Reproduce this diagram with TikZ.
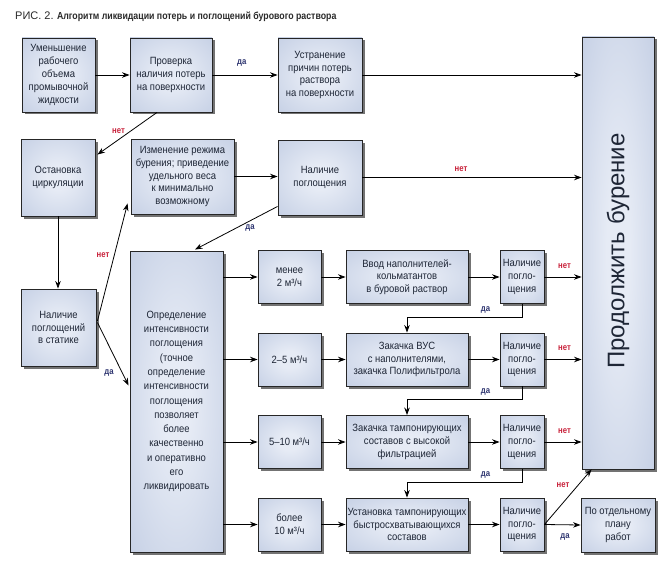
\documentclass[tikz,border=0pt]{standalone}
\usepackage{fontspec}
\setmainfont{Liberation Sans}[FakeStretch=0.9]
\newfontfamily\plainf{Liberation Sans}
\newfontfamily\condf{Liberation Sans}[FakeStretch=0.86]
\usetikzlibrary{arrows.meta,shadows,calc}
\definecolor{boxout}{HTML}{B6C3DD}
\definecolor{boxin}{HTML}{E6EBF5}
\definecolor{txt}{HTML}{1E2636}
\definecolor{dacol}{HTML}{2E3570}
\definecolor{netcol}{HTML}{C8213A}
\definecolor{ttl}{HTML}{2A2A2A}
\pgfdeclareradialshading{boxshade}{\pgfpoint{0bp}{0bp}}{color(0bp)=(boxin); color(8bp)=(boxin); color(50bp)=(boxout); color(100bp)=(boxout)}
\tikzset{
  box/.style={draw=black!85, line width=0.9pt, shading=boxshade,
    drop shadow={shadow xshift=2.5pt, shadow yshift=-2.5pt, fill=black, opacity=0.55},
    align=center, font=\fontsize{10.5}{12.8}\selectfont, text=txt, inner sep=1pt},
  arr/.style={-{Stealth[length=7.5pt,width=5.5pt]}, line width=0.8pt, black},
  lblda/.style={font=\condf\bfseries\fontsize{9}{10}\selectfont, text=dacol, inner sep=0pt},
  lblnet/.style={font=\condf\bfseries\fontsize{9}{10}\selectfont, text=netcol, inner sep=0pt},
}
\begin{document}
\begin{tikzpicture}[x=1pt, y=-1pt]
\useasboundingbox (0,0) rectangle (666,567);
% title
\node[anchor=west, inner sep=0pt, text=ttl] (title) at (15,17)
  {{\plainf\fontsize{11}{12}\selectfont РИС. 2.} {\condf\bfseries\fontsize{10.2}{11}\selectfont Алгоритм ликвидации потерь и поглощений бурового раствора}};
% top row
\node[box, minimum width=73pt, minimum height=74pt] (b1) at (58.5,75) {Уменьшение\\рабочего\\объема\\промывочной\\жидкости};
\node[box, minimum width=82pt, minimum height=74pt] (b2) at (171,75) {Проверка\\наличия потерь\\на поверхности};
\node[box, minimum width=84pt, minimum height=74pt] (b3) at (320,75) {Устранение\\причин потерь\\раствора\\на поверхности};
\node[box, minimum width=72pt, minimum height=432pt] (big) at (618,253) {};
\node[rotate=90, font=\plainf\fontsize{24}{28}\selectfont, text=txt] (bigtxt) at (618,251) {Продолжить бурение};
% second row
\node[box, minimum width=74pt, minimum height=77pt] (b4) at (58,177.5) {Остановка\\циркуляции};
\node[box, minimum width=103pt, minimum height=75pt] (b5) at (182.5,176.5) {Изменение режима\\бурения; приведение\\удельного веса\\к минимально\\возможному};
\node[box, minimum width=84pt, minimum height=75pt] (b6) at (320,177.5) {Наличие\\поглощения};
\node[box, minimum width=75pt, minimum height=77pt] (b7) at (58.5,327.5) {Наличие\\поглощений\\в статике};
\node[box, minimum width=93pt, minimum height=301pt, font=\fontsize{10.5}{14.3}\selectfont] (mid) at (176.5,401.5) {Определение\\интенсивности\\поглощения\\(точное\\определение\\интенсивности\\поглощения\\позволяет\\более\\качественно\\и оперативно\\его\\ликвидировать};
% rate boxes
\node[box, minimum width=63pt, minimum height=53pt] (r1) at (289.5,277) {менее\\2 м³/ч};
\node[box, minimum width=63pt, minimum height=53pt] (r2) at (289.5,359.5) {2–5 м³/ч};
\node[box, minimum width=63pt, minimum height=53pt] (r3) at (289.5,442) {5–10 м³/ч};
\node[box, minimum width=63pt, minimum height=53pt] (r4) at (289.5,524.5) {более\\10 м³/ч};
% action boxes
\node[box, minimum width=122pt, minimum height=53pt] (a1) at (407,277) {Ввод наполнителей-\\кольматантов\\в буровой раствор};
\node[box, minimum width=122pt, minimum height=53pt] (a2) at (407,359.5) {Закачка ВУС\\с наполнителями,\\закачка Полифильтрола};
\node[box, minimum width=122pt, minimum height=53pt] (a3) at (407,442) {Закачка тампонирующих\\составов с высокой\\фильтрацией};
\node[box, minimum width=122pt, minimum height=53pt] (a4) at (407,524.5) {Установка тампонирующих\\быстросхватывающихся\\составов};
% check boxes
\node[box, minimum width=44pt, minimum height=53pt] (c1) at (522,277) {Наличие\\погло-\\щения};
\node[box, minimum width=44pt, minimum height=53pt] (c2) at (522,359.5) {Наличие\\погло-\\щения};
\node[box, minimum width=44pt, minimum height=53pt] (c3) at (522,442) {Наличие\\погло-\\щения};
\node[box, minimum width=44pt, minimum height=53pt] (c4) at (522,524.5) {Наличие\\погло-\\щения};
\node[box, minimum width=74pt, minimum height=54pt] (plan) at (618,525) {По отдельному\\плану\\работ};
% connectors top
\draw[arr] (b1.east) -- (b2.west);
\draw[arr] (b2.east) -- node[lblda, above=8pt, pos=0.45] (l1) {да} (b3.west);
\draw[arr] (b3.east) -- (b3.east -| big.west);
\draw[arr] ($(b2.south)+(-14,0)$) -- node[lblnet, left=5pt, pos=0.45] (l2) {нет} ($(b4.north east)+(2,16)$);
\draw[arr] (b4.south) -- (b4.south |- b7.north);
\draw[arr] (b5.east) -- (b5.east -| b6.west);
\draw[arr] (b6.east) -- node[lblnet, above=6pt, pos=0.45] (l3) {нет} (b6.east -| big.west);
\draw[arr] ($(b6.south west)+(0,-9)$) -- ($(mid.north)+(18.5,-1)$);
\node[lblda] (l4) at (250,228) {да};
\draw[arr] ($(b7.east)+(1,-6.5)$) -- ($(b5.south west)+(-3,-11)$);
\node[lblnet] (l5) at (103,255) {нет};
\draw[arr] ($(b7.east)+(1,-5)$) -- ($(mid.west)+(-1,-16)$);
\node[lblda] (l6) at (109,373) {да};
% rows
\foreach \i in {1,2,3,4}{
  \draw[arr] (mid.east |- r\i.west) -- (r\i.west);
  \draw[arr] (r\i.east) -- (a\i.west);
  \draw[arr] (a\i.east) -- (c\i.west);
}
\foreach \i in {1,2,3}{
  \draw[arr] (c\i.east) -- (c\i.east -| big.west);
  \node[lblnet] at ($(c\i.east)+(20,-11)$) {нет};
}
\draw[arr] (c1.south) -- ($(c1.south)+(0,13)$) -| (a2.north);
\node[lblda] (d1) at ($(c1.south)+(-36.5,6)$) {да};
\draw[arr] (c2.south) -- ($(c2.south)+(0,13)$) -| (a3.north);
\node[lblda] (d2) at ($(c2.south)+(-36.5,6)$) {да};
\draw[arr] (c3.south) -- ($(c3.south)+(0,13)$) -| (a4.north);
\node[lblda] (d3) at ($(c3.south)+(-36.5,6)$) {да};
\draw[arr] (c4.east) -- ($(big.south west)+(10,0)$);
\node[lblnet] (n4) at (563,485) {нет};
\draw[arr] (c4.east) -- (plan.west);
\node[lblda] (d4) at (565,537) {да};
\end{tikzpicture}
\end{document}
